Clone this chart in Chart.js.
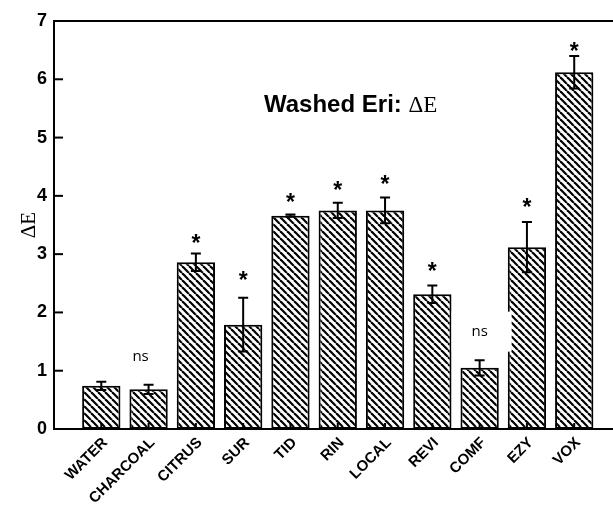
<!DOCTYPE html>
<html>
<head>
<meta charset="utf-8">
<script src="https://cdn.jsdelivr.net/npm/chart.js@4.4.1/dist/chart.umd.min.js"></script>
<style>
  html, body { margin: 0; padding: 0; background: #fff; overflow: hidden; }
  #wrap { width: 613px; height: 508px; position: relative; }
</style>
</head>
<body>
<div id="wrap"><canvas id="myChart"></canvas></div>
<script>
// values
const categories = ['WATER', 'CHARCOAL', 'CITRUS', 'SUR', 'TID', 'RIN', 'LOCAL', 'REVI', 'COMF', 'EZY', 'VOX'];
const deltaE = [0.74, 0.68, 2.86, 1.79, 3.66, 3.75, 3.75, 2.31, 1.05, 3.12, 6.12];
const errors = [0.07, 0.08, 0.15, 0.46, 0.02, 0.13, 0.22, 0.15, 0.13, 0.43, 0.28];
const marks = ['', 'ns', '*', '*', '*', '*', '*', '*', 'ns', '*', '*'];
const markY = [null, 1.24, 3.30, 2.66, 3.99, 4.21, 4.30, 2.82, 1.67, 3.92, 6.59];
const yTicks = [0, 1, 2, 3, 4, 5, 6, 7];

const makeHatch = () => {
    const s = 7;
    const c = document.createElement('canvas');
    c.width = s; c.height = s;
    const g = c.getContext('2d');
    g.fillStyle = '#fff';
    g.fillRect(0, 0, s, s);
    g.strokeStyle = '#000';
    g.lineWidth = 2.2;
    for (let k = -1; k <= 1; k++) {
        g.beginPath();
        g.moveTo(k * s, 0);
        g.lineTo(k * s + s, s);
        g.stroke();
    }
    return g.createPattern(c, 'repeat');
};

// error bars, stars, inner ticks, frame and title
const extras = {
    id: 'extras',
    afterDatasetsDraw(chart) {
        const ctx = chart.ctx;
        const x = chart.scales.x, y = chart.scales.y;
        const area = chart.chartArea;
        const bars = chart.getDatasetMeta(0).data;
        ctx.save();
        ctx.strokeStyle = '#000';
        ctx.lineWidth = 2;

        bars.forEach((bar, i) => {
            const top = y.getPixelForValue(deltaE[i] + errors[i]);
            const bot = y.getPixelForValue(deltaE[i] - errors[i]);
            ctx.beginPath();
            ctx.moveTo(bar.x, top); ctx.lineTo(bar.x, bot);
            ctx.moveTo(bar.x - 5, top); ctx.lineTo(bar.x + 5, top);
            ctx.moveTo(bar.x - 5, bot); ctx.lineTo(bar.x + 5, bot);
            ctx.stroke();
            // small inner tick on x axis
            ctx.beginPath();
            ctx.moveTo(bar.x, area.bottom); ctx.lineTo(bar.x, area.bottom - 6);
            ctx.stroke();
        });

        // y inner ticks
        yTicks.forEach(v => {
            const py = y.getPixelForValue(v);
            ctx.beginPath();
            ctx.moveTo(area.left, py); ctx.lineTo(area.left + 9, py);
            ctx.stroke();
        });

        // top frame line
        ctx.beginPath();
        ctx.moveTo(area.left - 1, area.top);
        ctx.lineTo(chart.width, area.top);
        ctx.stroke();

        // significance marks
        ctx.fillStyle = '#000';
        ctx.textAlign = 'center';
        marks.forEach((m, i) => {
            if (!m) return;
            const px = x.getPixelForValue(i + 1);
            const py = y.getPixelForValue(markY[i]);
            if (m === '*') {
                ctx.font = 'bold 23px "Liberation Sans", Arial, sans-serif';
                ctx.textBaseline = 'alphabetic';
                ctx.fillText('*', px, py + 14);
            } else {
                if (i === 8) {
                    ctx.fillStyle = '#fff';
                    ctx.fillRect(px - 28, py - 20, 60, 40);
                    ctx.fillStyle = '#000';
                }
                ctx.font = '15px "Open Sans", sans-serif';
                ctx.textBaseline = 'middle';
                ctx.fillText(m, i === 1 ? px - 8 : px, py);
            }
        });

        // title inside plot
        ctx.textAlign = 'left';
        ctx.textBaseline = 'alphabetic';
        ctx.font = 'bold 24px "Liberation Sans", Arial, sans-serif';
        const t1 = 'Washed Eri: ';
        ctx.fillText(t1, 264, 112);
        const w1 = ctx.measureText(t1).width;
        ctx.font = '23px "Liberation Serif", "Times New Roman", serif';
        ctx.fillText('\u0394E', 264 + w1, 112);

        ctx.restore();
    }
};

const ctx = document.getElementById('myChart').getContext('2d');
const hatch = makeHatch();

const chart = new Chart(ctx, {
    type: 'bar',
    data: {
        datasets: [{
            data: deltaE.map((v, i) => ({ x: i + 1, y: v })),
            backgroundColor: hatch,
            borderColor: '#000',
            borderWidth: 2,
            borderSkipped: false,
            barPercentage: 0.81,
            categoryPercentage: 1.0
        }]
    },
    plugins: [extras],
    options: {
        responsive: true,
        maintainAspectRatio: false,
        animation: false,
        layout: { padding: { top: 21, right: 0, left: 0, bottom: 0 } },
        plugins: {
            legend: { display: false },
            tooltip: { enabled: false }
        },
        scales: {
            x: {
                type: 'linear',
                offset: false,
                min: 0,
                max: 11.82,
                afterBuildTicks: (axis) => {
                    axis.ticks = categories.map((c, i) => ({ value: i + 1 }));
                },
                afterFit: (axis) => {
                    axis.height = 79;
                    axis.paddingLeft = 0;
                    axis.paddingRight = 0;
                },
                grid: { display: false, drawTicks: false },
                border: { display: true, color: '#000', width: 2 },
                ticks: {
                    color: '#000',
                    autoSkip: false,
                    maxRotation: 45,
                    minRotation: 45,
                    padding: 5,
                    labelOffset: 4,
                    font: { family: '"Liberation Sans", Arial, sans-serif', size: 15, weight: 'bold' },
                    callback: (v) => categories[v - 1] || ''
                }
            },
            y: {
                min: 0,
                max: 7,
                afterBuildTicks: (axis) => {
                    axis.ticks = yTicks.map(v => ({ value: v }));
                },
                afterFit: (axis) => { axis.width = 54; },
                grid: { display: false, drawTicks: false },
                border: { display: true, color: '#000', width: 2 },
                ticks: {
                    color: '#000',
                    padding: 7,
                    font: { family: '"Liberation Sans", Arial, sans-serif', size: 18, weight: 'bold' }
                },
                title: {
                    display: true,
                    text: '\u0394E',
                    color: '#000',
                    padding: { top: 17, bottom: 0 },
                    font: { family: '"Liberation Serif", "Times New Roman", serif', size: 21 }
                }
            }
        }
    }
});
</script>
</body>
</html>
